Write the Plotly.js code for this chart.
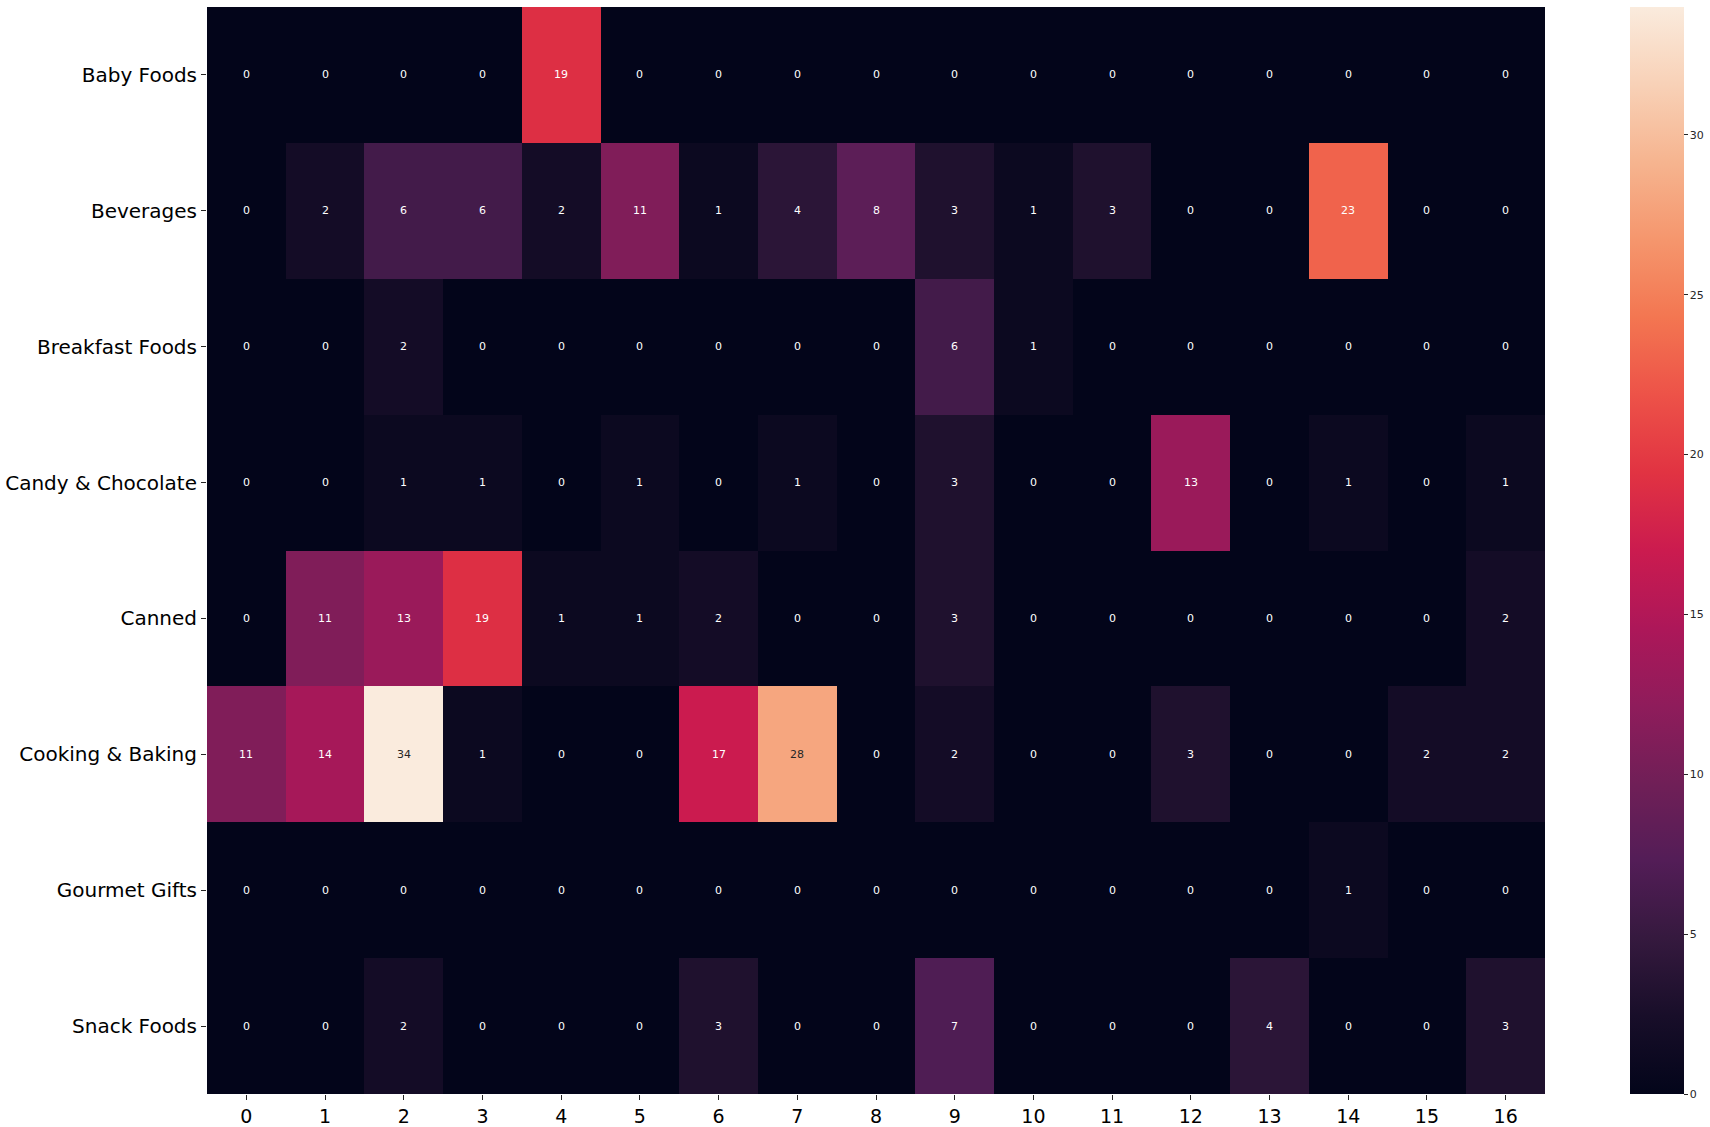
<!DOCTYPE html>
<html>
<head>
<meta charset="utf-8">
<script src="https://cdn.plot.ly/plotly-3.0.1.min.js"></script>
<style>
  html, body { margin: 0; padding: 0; background: #fff; }
  #chart { width: 1710px; height: 1127px; }
</style>
</head>
<body>
<div id="chart"></div>
<script>
const categories = ["Baby Foods", "Beverages", "Breakfast Foods", "Candy & Chocolate", "Canned", "Cooking & Baking", "Gourmet Gifts", "Snack Foods"];
const columns = [0, 1, 2, 3, 4, 5, 6, 7, 8, 9, 10, 11, 12, 13, 14, 15, 16];
const babyFoods       = [0, 0, 0, 0, 19, 0, 0, 0, 0, 0, 0, 0, 0, 0, 0, 0, 0];
const beverages       = [0, 2, 6, 6, 2, 11, 1, 4, 8, 3, 1, 3, 0, 0, 23, 0, 0];
const breakfastFoods  = [0, 0, 2, 0, 0, 0, 0, 0, 0, 6, 1, 0, 0, 0, 0, 0, 0];
const candyChocolate  = [0, 0, 1, 1, 0, 1, 0, 1, 0, 3, 0, 0, 13, 0, 1, 0, 1];
const canned          = [0, 11, 13, 19, 1, 1, 2, 0, 0, 3, 0, 0, 0, 0, 0, 0, 2];
const cookingBaking   = [11, 14, 34, 1, 0, 0, 17, 28, 0, 2, 0, 0, 3, 0, 0, 2, 2];
const gourmetGifts    = [0, 0, 0, 0, 0, 0, 0, 0, 0, 0, 0, 0, 0, 0, 1, 0, 0];
const snackFoods      = [0, 0, 2, 0, 0, 0, 3, 0, 0, 7, 0, 0, 0, 4, 0, 0, 3];
const colorbarTicks   = [0, 5, 10, 15, 20, 25, 30];

const z = [babyFoods, beverages, breakfastFoods, candyChocolate, canned, cookingBaking, gourmetGifts, snackFoods];

// seaborn "rocket" colormap approximation
const rocket = [
  [0.0,   'rgb(3,5,26)'],
  [0.0714,'rgb(24,14,41)'],
  [0.1429,'rgb(53,25,62)'],
  [0.2143,'rgb(83,29,87)'],
  [0.2857,'rgb(112,31,87)'],
  [0.3571,'rgb(143,28,91)'],
  [0.4286,'rgb(173,23,89)'],
  [0.5,   'rgb(203,27,79)'],
  [0.5714,'rgb(225,51,66)'],
  [0.6429,'rgb(237,82,72)'],
  [0.7143,'rgb(243,118,81)'],
  [0.7857,'rgb(245,150,109)'],
  [0.8571,'rgb(246,180,143)'],
  [0.9286,'rgb(248,209,183)'],
  [1.0,   'rgb(250,235,221)']
];

const zmax = 34;
const annotations = [];
z.forEach((row, i) => {
  row.forEach((v, j) => {
    annotations.push({
      x: columns[j], y: categories[i], xref: 'x', yref: 'y',
      text: String(v), showarrow: false,
      font: { family: 'DejaVu Sans', size: 11, color: (v / zmax > 0.78) ? '#262626' : '#ffffff' }
    });
  });
});

const trace = {
  type: 'heatmap',
  z: z,
  x: columns,
  y: categories,
  colorscale: rocket,
  zmin: 0,
  zmax: zmax,
  xgap: 0, ygap: 0,
  hoverongaps: false,
  colorbar: {
    x: 1.0627, xanchor: 'left', xref: 'paper',
    y: 0.5, yanchor: 'middle', len: 1, lenmode: 'fraction',
    thickness: 54, thicknessmode: 'pixels',
    outlinewidth: 0,
    tickvals: colorbarTicks,
    ticktext: colorbarTicks.map(String),
    ticks: 'outside', ticklen: 4, tickwidth: 1, tickcolor: '#262626',
    tickfont: { family: 'DejaVu Sans', size: 11, color: '#262626' },
    xpad: 0, ypad: 0
  }
};

const layout = {
  width: 1710, height: 1127,
  margin: { l: 207, r: 164, t: 7, b: 33, pad: 0 },
  paper_bgcolor: '#ffffff',
  plot_bgcolor: '#ffffff',
  xaxis: {
    type: 'linear',
    range: [-0.5, 16.5],
    tickvals: columns,
    ticktext: columns.map(String),
    ticks: 'outside', ticklen: 5, tickwidth: 1, tickcolor: '#262626',
    tickfont: { family: 'DejaVu Sans', size: 19, color: '#000000' },
    showgrid: false, zeroline: false, showline: false
  },
  yaxis: {
    type: 'category',
    autorange: 'reversed',
    ticks: 'outside', ticklen: 5, tickwidth: 1, tickcolor: '#262626',
    tickfont: { family: 'DejaVu Sans', size: 20, color: '#000000' },
    showgrid: false, zeroline: false, showline: false
  },
  annotations: annotations,
  font: { family: 'DejaVu Sans' }
};

Plotly.newPlot('chart', [trace], layout, { displayModeBar: false, staticPlot: true });
</script>
</body>
</html>
